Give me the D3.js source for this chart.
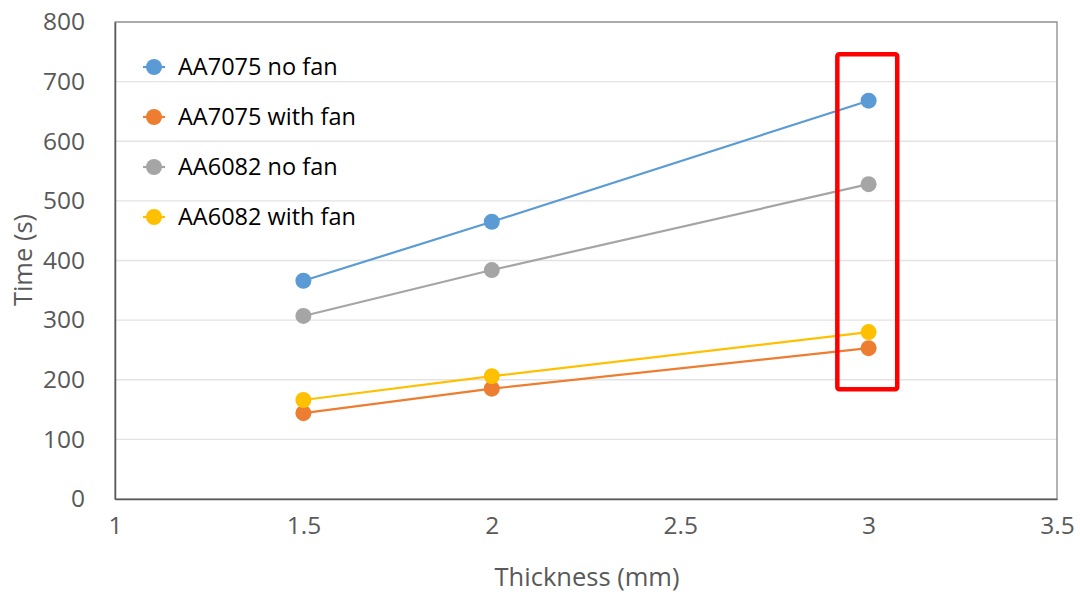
<!DOCTYPE html>
<html>
<head>
<meta charset="utf-8">
<script src="https://cdn.jsdelivr.net/npm/d3@7"></script>
<style>
  body { margin: 0; background: #fff; }
  text { font-family: "Open Sans", Lato, sans-serif; }
</style>
</head>
<body>
<div id="chart"></div>
<script>
const thickness = [1.5, 2, 3];
const seriesNames = ["AA7075 no fan", "AA7075 with fan", "AA6082 no fan", "AA6082 with fan"];
const aa7075NoFan = [366, 465, 668];
const aa7075WithFan = [144, 185, 253];
const aa6082NoFan = [307, 384, 528];
const aa6082WithFan = [166, 206, 280];
const colors = ["#5b9bd5", "#ed7d31", "#a5a5a5", "#ffc000"];
const xTicks = [1, 1.5, 2, 2.5, 3, 3.5];
const yTicks = [0, 100, 200, 300, 400, 500, 600, 700, 800];
// highlight box around the 3 mm points
const boxX = [2.917, 3.076];
const boxY = [184, 746];

const series = [aa7075NoFan, aa7075WithFan, aa6082NoFan, aa6082WithFan];

const width = 1080, height = 592,
  margin = ({ top: 22, right: 23, bottom: 93, left: 115 });

const svg = d3.select("#chart")
  .append("svg")
  .attr("width", width)
  .attr("height", height);

let x = d3.scaleLinear()
  .domain([1, 3.5])
  .range([margin.left, width - margin.right]);

let y = d3.scaleLinear()
  .domain([0, 800])
  .range([height - margin.bottom, margin.top]);

// gridlines
svg.append("g")
  .selectAll("line")
  .data(yTicks.slice(1))
  .join("line")
    .attr("x1", margin.left)
    .attr("x2", width - margin.right)
    .attr("y1", d => y(d))
    .attr("y2", d => y(d))
    .attr("stroke", "#e3e3e3")
    .attr("stroke-width", 1.3);

// plot frame
svg.append("rect")
  .attr("x", margin.left)
  .attr("y", margin.top)
  .attr("width", width - margin.left - margin.right)
  .attr("height", height - margin.top - margin.bottom)
  .attr("fill", "none")
  .attr("stroke", "#8a8a8a")
  .attr("stroke-width", 1.3);

svg.append("g")
  .attr("transform", `translate(0,${height - margin.bottom})`)
  .call(d3.axisBottom(x).tickValues(xTicks).tickSize(0).tickPadding(18).tickFormat(d => d))
  .call(g => g.select(".domain").attr("stroke", "#595959").attr("stroke-width", 1.5))
  .selectAll("text")
    .attr("fill", "#595959")
    .attr("font-size", 24.5);

svg.append("g")
  .attr("transform", `translate(${margin.left},0)`)
  .call(d3.axisLeft(y).tickValues(yTicks).tickSize(0).tickPadding(30))
  .call(g => g.select(".domain").attr("stroke", "#595959").attr("stroke-width", 1.5))
  .selectAll("text")
    .attr("fill", "#595959")
    .attr("font-size", 24.5);

svg.append("text")
  .attr("text-anchor", "middle")
  .attr("x", 587)
  .attr("y", 586)
  .attr("fill", "#595959")
  .attr("font-size", 25.5)
  .text("Thickness (mm)");

svg.append("text")
  .attr("text-anchor", "middle")
  .attr("transform", `translate(32,260) rotate(-90)`)
  .attr("fill", "#595959")
  .attr("font-size", 25.5)
  .text("Time (s)");

let line = d3.line()
  .x((d, i) => x(thickness[i]))
  .y(d => y(d));

series.forEach((vals, k) => {
  svg.append("path")
    .datum(vals)
    .attr("d", line)
    .attr("fill", "none")
    .attr("stroke", colors[k])
    .attr("stroke-width", 2.2);
  svg.append("g")
    .selectAll("circle")
    .data(vals)
    .join("circle")
      .attr("cx", (d, i) => x(thickness[i]))
      .attr("cy", d => y(d))
      .attr("r", 8)
      .attr("fill", colors[k]);
});

// legend
const legend = svg.append("g");
seriesNames.forEach((name, k) => {
  const ly = 67 + k * 50;
  legend.append("line")
    .attr("x1", 143).attr("x2", 165)
    .attr("y1", ly).attr("y2", ly)
    .attr("stroke", colors[k]).attr("stroke-width", 2.2);
  legend.append("circle")
    .attr("cx", 154).attr("cy", ly).attr("r", 8)
    .attr("fill", colors[k]);
  legend.append("text")
    .attr("x", 178).attr("y", ly)
    .attr("dy", "0.35em")
    .attr("font-size", 23.5)
    .attr("fill", "#000")
    .text(name);
});

// red highlight rectangle
svg.append("rect")
  .attr("x", x(boxX[0]))
  .attr("y", y(boxY[1]))
  .attr("width", x(boxX[1]) - x(boxX[0]))
  .attr("height", y(boxY[0]) - y(boxY[1]))
  .attr("rx", 2)
  .attr("fill", "none")
  .attr("stroke", "#ff0000")
  .attr("stroke-width", 4.5);
</script>
</body>
</html>
